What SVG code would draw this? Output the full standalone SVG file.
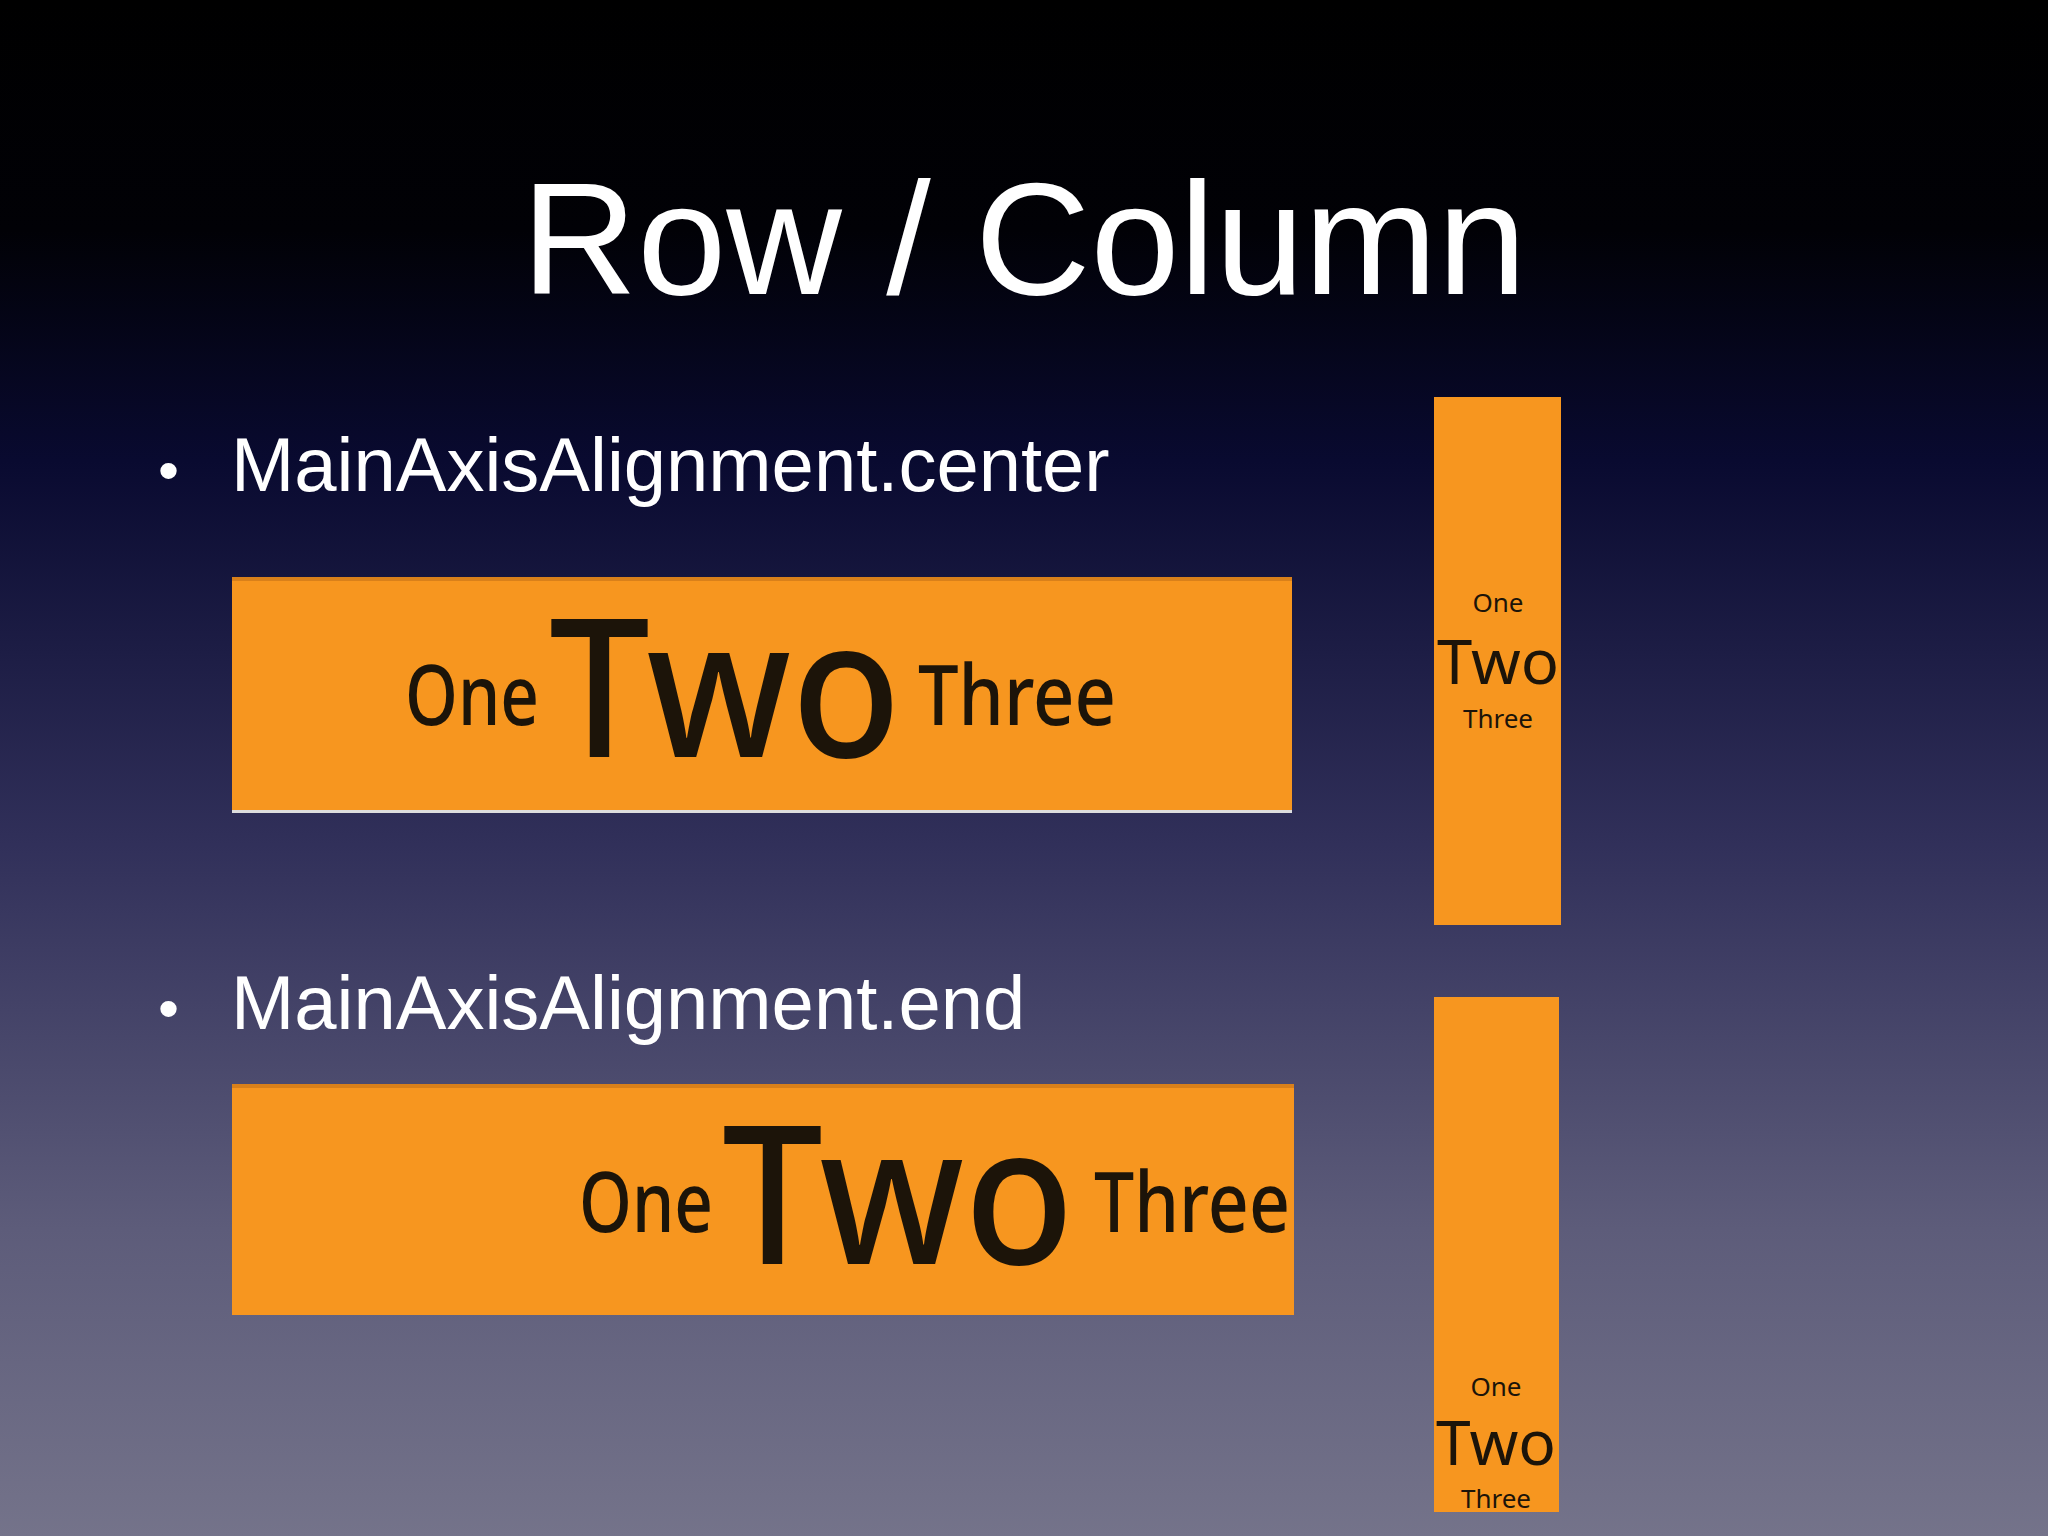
<svg xmlns="http://www.w3.org/2000/svg" width="2048" height="1536" viewBox="0 0 2048 1536">
<defs>
<linearGradient id="bg" x1="0" y1="0" x2="0" y2="1">
<stop offset="0" stop-color="#000000"/>
<stop offset="0.15" stop-color="#010106"/>
<stop offset="0.3" stop-color="#090a30"/>
<stop offset="0.55" stop-color="#31305a"/>
<stop offset="0.8" stop-color="#5d5c7a"/>
<stop offset="1" stop-color="#74738a"/>
</linearGradient>
<style>
.w{fill:#ffffff;font-family:"Liberation Sans",Arial,sans-serif}
.box{fill:#f7961f}
.t{fill:#1c1409;font-family:"Noto Sans",Roboto,sans-serif}
.c{text-anchor:middle}
</style>
</defs>
<rect width="2048" height="1536" fill="url(#bg)"/>
<text class="w c" x="1024" y="294" font-size="160">Row / Column</text>
<g id="bullet1"><text class="w" x="158" y="491" font-size="60">•</text><text class="w" x="231" y="491" font-size="76">MainAxisAlignment.center</text></g>
<g id="bullet2"><text class="w" x="158" y="1029" font-size="60">•</text><text class="w" x="231" y="1029" font-size="76">MainAxisAlignment.end</text></g>
<g id="row1">
<rect class="box" x="232" y="577" width="1060" height="235"/>
<rect x="232" y="577" width="1060" height="4" fill="#d9801a"/>
<rect x="232" y="810" width="1060" height="3" fill="#dddddd"/>
<text class="t" x="405" y="725" font-size="84" font-weight="500" textLength="134" lengthAdjust="spacingAndGlyphs">One</text>
<text class="t" x="549" y="757" font-size="192" font-weight="500" textLength="352" lengthAdjust="spacingAndGlyphs">Two</text>
<text class="t" x="918" y="725" font-size="84" font-weight="500" textLength="198" lengthAdjust="spacingAndGlyphs">Three</text>
</g>
<g id="row2">
<rect class="box" x="232" y="1084" width="1062" height="231"/>
<rect x="232" y="1084" width="1062" height="4" fill="#d9801a"/>
<text class="t" x="579" y="1232" font-size="84" font-weight="500" textLength="134" lengthAdjust="spacingAndGlyphs">One</text>
<text class="t" x="722" y="1264" font-size="192" font-weight="500" textLength="352" lengthAdjust="spacingAndGlyphs">Two</text>
<text class="t" x="1094" y="1232" font-size="84" font-weight="500" textLength="196" lengthAdjust="spacingAndGlyphs">Three</text>
</g>
<g id="col1">
<rect class="box" x="1434" y="397" width="127" height="528"/>
<text class="t c" x="1498" y="612" font-size="26">One</text>
<text class="t c" x="1498" y="684" font-size="62" textLength="122" lengthAdjust="spacingAndGlyphs">Two</text>
<text class="t c" x="1498" y="728" font-size="26">Three</text>
</g>
<g id="col2">
<rect class="box" x="1434" y="997" width="125" height="515"/>
<text class="t c" x="1496" y="1396" font-size="26">One</text>
<text class="t c" x="1496" y="1465" font-size="62" textLength="120" lengthAdjust="spacingAndGlyphs">Two</text>
<text class="t c" x="1496" y="1508" font-size="26">Three</text>
</g>
<g id="connectors"/>
</svg>
